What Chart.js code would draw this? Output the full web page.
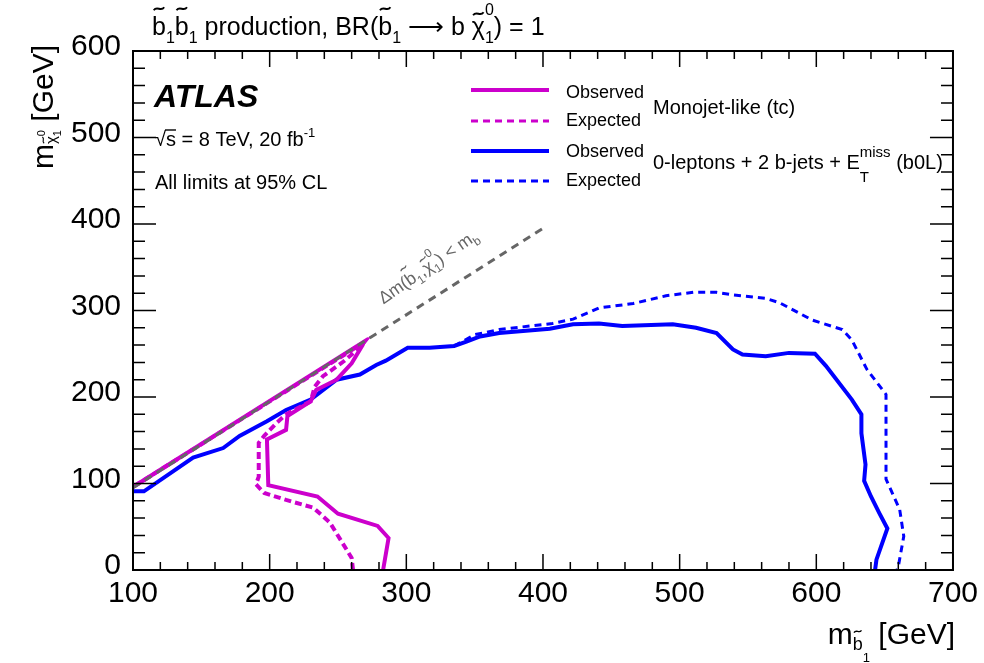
<!DOCTYPE html>
<html lang="en">
<head>
<meta charset="UTF-8">
<title>Sbottom pair production limits</title>
<script src="https://cdn.jsdelivr.net/npm/chart.js"></script>
<style>
  body { margin: 0; background: #fff; }
  #wrap { width: 984px; height: 663px; }
</style>
</head>
<body>
<div id="wrap"><canvas id="limitChart" width="984" height="663"></canvas></div>
<script>
// tick labels
const xTicks = [100, 200, 300, 400, 500, 600, 700];
const yTicks = [0, 100, 200, 300, 400, 500, 600];

// kinematic limit, m(chi) = m(sbottom) - m(b)
const kinX = [100, 400];
const kinY = [95, 395];

// Monojet-like (tc)
const tcObsX = [283, 287, 279, 250, 235, 199, 198, 212, 213, 230, 234, 249, 260, 268, 269, 100];
const tcObsY = [0, 37, 51, 65, 85, 98, 151, 162, 178, 195, 208, 220, 239, 260, 264, 96];
const tcExpX = [261, 260, 244, 232, 212, 196, 190, 192, 192, 196, 205, 212, 230, 233, 239, 254, 266, 269, 100];
const tcExpY = [0, 14, 55, 72, 81, 89, 99, 108, 147, 155, 170, 180, 195, 212, 224, 241, 257, 263, 96];

// 0-leptons + 2 b-jets + ETmiss (b0L)
const blObsX = [100, 108, 144, 166, 178, 198, 212, 230, 249, 266, 278, 285, 301, 317, 335, 344, 354, 368, 405, 422, 441, 458, 495, 512, 527, 539, 546, 563, 580, 599, 607, 626, 633, 633, 636, 635, 640, 646, 652, 644, 643];
const blObsY = [91, 91, 130, 141, 155, 172, 185, 197, 220, 226, 237, 242, 257, 257, 259, 264, 270, 274, 279, 284, 285, 282, 284, 280, 274, 255, 249, 247, 251, 250, 236, 197, 180, 158, 122, 103, 85, 66, 48, 12, 0];
const blExpX = [335, 350, 368, 407, 422, 434, 441, 466, 490, 510, 527, 539, 563, 573, 597, 619, 626, 637, 651, 651, 661, 664, 660, 659];
const blExpY = [259, 272, 278, 285, 290, 298, 303, 308, 317, 321, 321, 318, 314, 309, 289, 278, 266, 232, 203, 105, 70, 39, 4, 0];

const FONT = '"Liberation Sans", Arial, Helvetica, sans-serif';
const MAGENTA = '#cc00cc';
const BLUE = '#0000ff';
const GREY = '#666666';

function pts(xs, ys) {
    return xs.map((x, i) => ({ x: x, y: ys[i] }));
}

// --- small rich-text helper (sub/superscripts, tildes) ---
function seg(t, s, dy, opt) {
    return Object.assign({ t: t, s: s, dy: dy || 0 }, opt || {});
}
function stack(a, b) {
    return { stack: [a, b] };
}
function fontOf(g) {
    return (g.w ? g.w + ' ' : '') + g.s + 'px ' + FONT;
}
function segWidth(ctx, g) {
    if (g.stack) return Math.max(segWidth(ctx, g.stack[0]), segWidth(ctx, g.stack[1]));
    ctx.font = fontOf(g);
    return ctx.measureText(g.t).width;
}
function drawTilde(ctx, cx, cy, s) {
    const w = s * 0.42, a = s * 0.06;
    ctx.save();
    ctx.lineWidth = Math.max(1, s * 0.075);
    ctx.strokeStyle = ctx.fillStyle;
    ctx.beginPath();
    ctx.moveTo(cx - w / 2, cy + a);
    ctx.bezierCurveTo(cx - w / 6, cy - 2.4 * a, cx + w / 6, cy + 2.4 * a, cx + w / 2, cy - a);
    ctx.stroke();
    ctx.restore();
}
function drawSeg(ctx, g, x, y) {
    ctx.font = fontOf(g);
    ctx.fillText(g.t, x, y + g.dy);
    const w = ctx.measureText(g.t).width;
    if (g.tilde) drawTilde(ctx, x + w / 2, y + g.dy - g.s * g.tilde, g.s);
    if (g.over) {
        ctx.save();
        ctx.lineWidth = Math.max(1, g.s * 0.07);
        ctx.strokeStyle = ctx.fillStyle;
        ctx.beginPath();
        ctx.moveTo(x - 1, y + g.dy - g.s * 0.8);
        ctx.lineTo(x + w, y + g.dy - g.s * 0.8);
        ctx.stroke();
        ctx.restore();
    }
}
function drawRich(ctx, segs, x, y, align) {
    const total = segs.reduce((a, g) => a + segWidth(ctx, g), 0);
    let cx = align === 'right' ? x - total : (align === 'center' ? x - total / 2 : x);
    ctx.textAlign = 'left';
    ctx.textBaseline = 'alphabetic';
    segs.forEach(g => {
        const w = segWidth(ctx, g);
        if (g.stack) g.stack.forEach(p => drawSeg(ctx, p, cx, y));
        else drawSeg(ctx, g, cx, y);
        cx += w;
    });
}

// texts
const titleText = [
    seg('b', 25, 0, { tilde: 1.05 }), seg('1', 16, 8),
    seg('b', 25, 0, { tilde: 1.05 }), seg('1', 16, 8),
    seg(' production, BR(', 25),
    seg('b', 25, 0, { tilde: 1.05 }), seg('1', 16, 8),
    seg(' \u27f6 b ', 25),
    seg('\u03c7', 25, 0, { tilde: 0.85 }), stack(seg('0', 16, -20), seg('1', 16, 8)),
    seg(') = 1', 25)
];
const xTitle = [seg('m', 30), seg('b', 18, 6, { tilde: 1.03 }), seg('1', 13, 18), seg(' [GeV]', 30)];
const yTitle = [seg('m', 30), seg('\u03c7', 15, 3, { tilde: 0.85 }), stack(seg('0', 11, -8), seg('1', 11, 8)), seg(' [GeV]', 30)];
const sqrtText = [seg('\u221a', 20), seg('s', 20, 0, { over: true }), seg(' = 8 TeV, 20 fb', 20), seg('-1', 13, -9)];
const kinText = [
    seg('\u0394m(', 17.5), seg('b', 17.5, 0, { tilde: 1.05 }), seg('1', 12, 5), seg(',', 17.5),
    seg('\u03c7', 17.5, 0, { tilde: 0.85 }), stack(seg('0', 12, -13), seg('1', 12, 5)),
    seg(') < m', 17.5), seg('b', 12, 5)
];
const b0lText = [seg('0-leptons + 2 b-jets + E', 20), stack(seg('miss', 15, -12), seg('T', 15, 13)), seg(' (b0L)', 20)];

const decor = {
    id: 'decor',
    afterDatasetsDraw(chart) {
        const ctx = chart.ctx;
        const xs = chart.scales.x, ys = chart.scales.y;
        const a = chart.chartArea;
        ctx.save();

        // minor/major ticks on all four sides, pointing inward
        ctx.strokeStyle = '#000';
        ctx.lineWidth = 1.5;
        for (let v = xs.min; v <= xs.max; v += 20) {
            const px = xs.getPixelForValue(v);
            const L = xTicks.includes(v) ? 16 : 8;
            ctx.beginPath();
            ctx.moveTo(px, a.bottom); ctx.lineTo(px, a.bottom - L);
            ctx.moveTo(px, a.top); ctx.lineTo(px, a.top + L);
            ctx.stroke();
        }
        for (let v = ys.min; v <= ys.max; v += 20) {
            const py = ys.getPixelForValue(v);
            const L = yTicks.includes(v) ? 23 : 12;
            ctx.beginPath();
            ctx.moveTo(a.left, py); ctx.lineTo(a.left + L, py);
            ctx.moveTo(a.right, py); ctx.lineTo(a.right - L, py);
            ctx.stroke();
        }
        ctx.lineWidth = 2;
        ctx.strokeRect(a.left, a.top, a.right - a.left, a.bottom - a.top);

        // text labels
        ctx.fillStyle = '#000';
        drawRich(ctx, titleText, 152, 35, 'left');
        drawRich(ctx, xTitle, 955, 644, 'right');
        ctx.save();
        ctx.translate(53, 0);
        ctx.rotate(-Math.PI / 2);
        drawRich(ctx, yTitle, -45, 0, 'right');
        ctx.restore();

        drawRich(ctx, [seg('ATLAS', 32, 0, { w: 'italic bold' })], 154, 107, 'left');
        drawRich(ctx, sqrtText, 155, 146, 'left');
        drawRich(ctx, [seg('All limits at 95% CL', 20)], 155, 189, 'left');

        // legend
        const leg = [
            { c: MAGENTA, dash: [], w: 4, y: 90, label: 'Observed', ly: 98 },
            { c: MAGENTA, dash: [7, 5], w: 3, y: 121, label: 'Expected', ly: 126 },
            { c: BLUE, dash: [], w: 4, y: 151, label: 'Observed', ly: 157 },
            { c: BLUE, dash: [7, 5], w: 3, y: 181, label: 'Expected', ly: 186 }
        ];
        leg.forEach(e => {
            ctx.strokeStyle = e.c;
            ctx.lineWidth = e.w;
            ctx.setLineDash(e.dash);
            ctx.beginPath();
            ctx.moveTo(471, e.y); ctx.lineTo(549, e.y);
            ctx.stroke();
            ctx.setLineDash([]);
            drawRich(ctx, [seg(e.label, 18)], 566, e.ly, 'left');
        });
        drawRich(ctx, [seg('Monojet-like (tc)', 20)], 653, 114, 'left');
        drawRich(ctx, b0lText, 653, 169, 'left');

        // kinematic limit label along the dashed line
        const p1x = xs.getPixelForValue(kinX[0]), p1y = ys.getPixelForValue(kinY[0]);
        const p2x = xs.getPixelForValue(kinX[1]), p2y = ys.getPixelForValue(kinY[1]);
        const ang = Math.atan2(p2y - p1y, p2x - p1x);
        const t = (292 - kinX[0]) / (kinX[1] - kinX[0]);
        ctx.fillStyle = GREY;
        ctx.translate(p1x + t * (p2x - p1x), p1y + t * (p2y - p1y));
        ctx.rotate(ang - 0.04);
        drawRich(ctx, kinText, 0, -21, 'left');
        ctx.restore();
    }
};

function lineSet(xs, ys, color, width, dash) {
    return {
        data: pts(xs, ys),
        showLine: true,
        borderColor: color,
        borderWidth: width,
        borderDash: dash,
        pointRadius: 0,
        tension: 0,
        fill: false
    };
}

const tickFont = { size: 30, family: FONT };

new Chart(document.getElementById('limitChart').getContext('2d'), {
    type: 'scatter',
    data: {
        datasets: [
            lineSet(kinX, kinY, GREY, 3, [8, 6]),
            lineSet(tcObsX, tcObsY, MAGENTA, 4, []),
            lineSet(tcExpX, tcExpY, MAGENTA, 4, [7, 4]),
            lineSet(blObsX, blObsY, BLUE, 4, []),
            lineSet(blExpX, blExpY, BLUE, 3, [7, 5])
        ]
    },
    options: {
        responsive: false,
        animation: false,
        layout: { padding: { left: 0, right: 31, top: 51, bottom: 0 } },
        plugins: { legend: { display: false }, tooltip: { enabled: false } },
        scales: {
            x: {
                type: 'linear', min: 100, max: 700,
                afterFit: s => { s.height = 93; },
                afterBuildTicks: s => { s.ticks = xTicks.map(v => ({ value: v })); },
                grid: { display: false, drawTicks: false },
                border: { display: false },
                ticks: { font: tickFont, color: '#000', padding: 6, maxRotation: 0, autoSkip: false }
            },
            y: {
                type: 'linear', min: 0, max: 600,
                afterFit: s => { s.width = 133; },
                afterBuildTicks: s => { s.ticks = yTicks.map(v => ({ value: v })); },
                grid: { display: false, drawTicks: false },
                border: { display: false },
                ticks: { font: tickFont, color: '#000', padding: 12, labelOffset: -4, autoSkip: false }
            }
        }
    },
    plugins: [decor]
});
</script>
</body>
</html>
